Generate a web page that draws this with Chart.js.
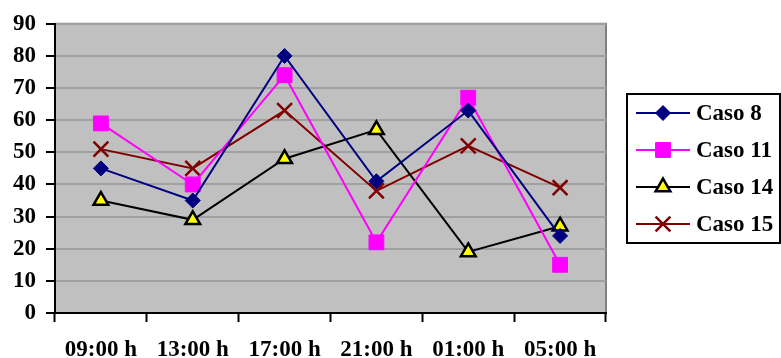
<!DOCTYPE html>
<html>
<head>
<meta charset="utf-8">
<script src="https://cdn.jsdelivr.net/npm/chart.js@4/dist/chart.umd.min.js"></script>
<style>
  html, body { margin: 0; padding: 0; background: #fff; }
  #wrap { width: 781px; height: 358px; }
</style>
</head>
<body>
<div id="wrap"><canvas id="grafico"></canvas></div>
<script>
// dados
const horarios = ["09:00 h", "13:00 h", "17:00 h", "21:00 h", "01:00 h", "05:00 h"];
const caso8 = [45, 35, 80, 41, 63, 24];
const caso11 = [59, 40, 74, 22, 67, 15];
const caso14 = [35, 29, 48, 57, 19, 27];
const caso15 = [51, 45, 63, 38, 52, 39];
const nomes = ["Caso 8", "Caso 11", "Caso 14", "Caso 15"];

const fonte = { family: "'Liberation Serif', 'Times New Roman', serif", size: 23, weight: "bold" };

const series = [
  { label: nomes[0], data: caso8, borderColor: "#000080", backgroundColor: "#000080",
    pointStyle: "rectRot", pointRadius: 7.5, pointBorderWidth: 1 },
  { label: nomes[1], data: caso11, borderColor: "#FF00FF", backgroundColor: "#FF00FF",
    pointStyle: "rect", pointRadius: 10.5, pointBorderWidth: 1 },
  { label: nomes[2], data: caso14, borderColor: "#000000", backgroundColor: "#FFFF00",
    pointStyle: "triangle", pointRadius: 8.5, pointBorderWidth: 2.5 },
  { label: nomes[3], data: caso15, borderColor: "#800000", backgroundColor: "#800000",
    pointStyle: "crossRot", pointRadius: 10.5, pointBorderWidth: 2.5 },
];

// fundo cinza da área de plotagem
const fundoPlot = {
  id: "fundoPlot",
  beforeDraw(chart) {
    const { ctx, chartArea: a } = chart;
    ctx.save();
    ctx.fillStyle = "#C0C0C0";
    ctx.fillRect(a.left, a.top, a.right - a.left, a.bottom - a.top);
    ctx.strokeStyle = "#808080";
    ctx.lineWidth = 2;
    ctx.beginPath();
    ctx.moveTo(a.left, a.top);
    ctx.lineTo(a.right, a.top);
    ctx.lineTo(a.right, a.bottom);
    ctx.stroke();
    ctx.restore();
  },
};

// legenda com caixa à direita
const legendaCaixa = {
  id: "legendaCaixa",
  afterDraw(chart) {
    const ctx = chart.ctx;
    const x0 = 627, y0 = 94, w = 153, h = 149;
    ctx.save();
    ctx.strokeStyle = "#000";
    ctx.lineWidth = 2;
    ctx.strokeRect(x0, y0, w, h);
    ctx.font = "bold 23px 'Liberation Serif', 'Times New Roman', serif";
    ctx.textBaseline = "middle";
    series.forEach((s, i) => {
      const y = 113 + i * 37;
      ctx.strokeStyle = s.borderColor;
      ctx.lineWidth = 2;
      ctx.beginPath();
      ctx.moveTo(636, y);
      ctx.lineTo(690, y);
      ctx.stroke();
      ctx.fillStyle = s.backgroundColor;
      ctx.lineWidth = s.pointBorderWidth;
      Chart.helpers.drawPoint(ctx, {
        pointStyle: s.pointStyle, radius: s.pointRadius, borderWidth: s.pointBorderWidth, rotation: 0,
      }, 663, y);
      ctx.fillStyle = "#000";
      ctx.fillText(s.label, 696, y + 1);
    });
    ctx.restore();
  },
};

new Chart(document.getElementById("grafico"), {
  type: "line",
  data: {
    labels: horarios,
    datasets: series.map((s) => ({
      ...s,
      borderWidth: 2,
      tension: 0,
      pointBackgroundColor: s.backgroundColor,
      pointBorderColor: s.borderColor,
      pointHoverRadius: s.pointRadius,
    })),
  },
  options: {
    responsive: true,
    maintainAspectRatio: false,
    animation: false,
    layout: { padding: { left: 0, top: 23, right: 175, bottom: 0 } },
    plugins: { legend: { display: false }, tooltip: { enabled: false } },
    scales: {
      x: {
        offset: true,
        grid: { offset: true, drawOnChartArea: false, tickLength: 9, tickColor: "#000", tickWidth: 2 },
        border: { color: "#000", width: 2 },
        ticks: { color: "#000", font: fonte, padding: 14, maxRotation: 0 },
        afterFit(scale) { scale.height = 45; },
      },
      y: {
        min: 0,
        max: 90,
        ticks: { stepSize: 10, color: "#000", font: fonte, padding: 10 },
        grid: { color: "#A0A0A0", lineWidth: 2, tickLength: 9, tickColor: "#000", tickWidth: 2 },
        border: { color: "#000", width: 2 },
        afterFit(scale) { scale.width = 55; },
      },
    },
  },
  plugins: [fundoPlot, legendaCaixa],
});
</script>
</body>
</html>
